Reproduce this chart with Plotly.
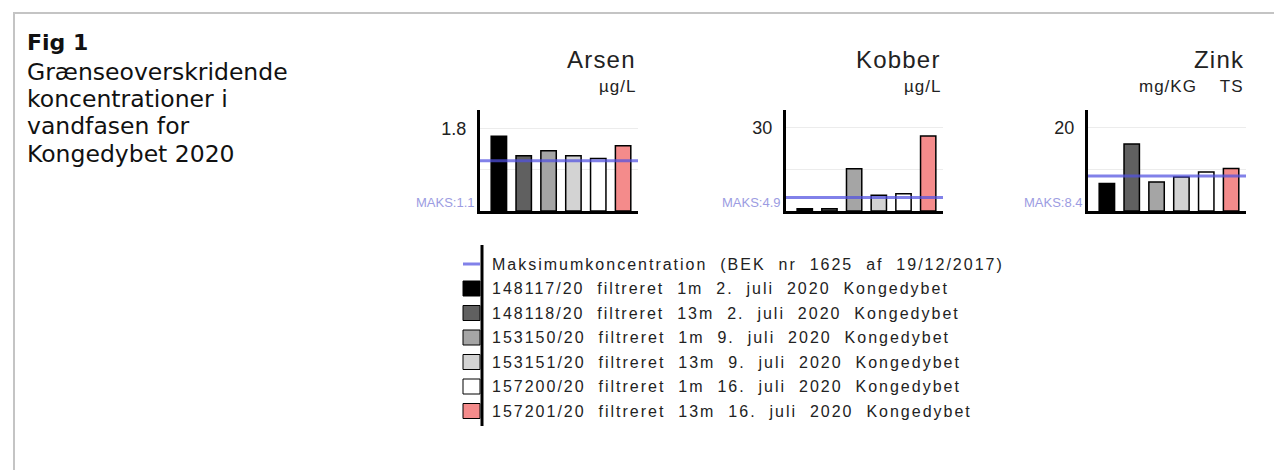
import plotly.graph_objects as go

W, H = 1282, 470

# ---------------- data ----------------
metals = ["Arsen", "Kobber", "Zink"]
units = ["µg/L", "µg/L", "mg/KG  TS"]
arsen_vals = [1.64, 1.21, 1.32, 1.21, 1.15, 1.43]
kobber_vals = [0.8, 0.8, 15.3, 5.7, 6.25, 27.1]
zink_vals = [6.6, 16.1, 7.0, 8.2, 9.4, 10.2]
maks_vals = [1.1, 4.9, 8.4]
tick_steps = [0.9, 15, 10]
tick_labels = ["1.8", "30", "20"]
y_tops = [2.215, 36.5, 24.3]

sample_labels = [
    "148117/20 filtreret 1m 2. juli 2020 Kongedybet",
    "148118/20 filtreret 13m 2. juli 2020 Kongedybet",
    "153150/20 filtreret 1m 9. juli 2020 Kongedybet",
    "153151/20 filtreret 13m 9. juli 2020 Kongedybet",
    "157200/20 filtreret 1m 16. juli 2020 Kongedybet",
    "157201/20 filtreret 13m 16. juli 2020 Kongedybet",
]
maks_label = "Maksimumkoncentration (BEK nr 1625 af 19/12/2017)"
sample_colors = ["#000000", "#606060", "#a5a5a5", "#d3d3d3", "#ffffff", "#f48b8b"]

caption_title = "Fig 1"
caption_lines = ["Grænseoverskridende", "koncentrationer i", "vandfasen for", "Kongedybet 2020"]

all_vals = [arsen_vals, kobber_vals, zink_vals]

# ---------------- layout helpers ----------------
def px(x):
    return x / W

def py(y):
    return 1 - y / H

FONT = "Liberation Sans, Arial, sans-serif"
MAKS_LINE = "rgba(80,80,225,0.72)"
MAKS_TEXT = "#9c9ce2"

plot_x = [(472, 630), (778, 935), (1080, 1238)]
plot_y = (102, 203)
x_range = [-0.76, 5.6]

def spaced(s, ls):
    t = s.replace(" ", "\u00a0\u00a0")
    return f'<span style="letter-spacing:{ls}px">{t}</span>'

fig = go.Figure()
annotations = []
shapes = []

for i, name in enumerate(metals):
    ax = "" if i == 0 else str(i + 1)
    xa, ya = "x" + ax, "y" + ax
    vals = all_vals[i]
    fig.add_trace(go.Bar(
        x=list(range(len(vals))), y=vals,
        marker=dict(color=sample_colors, line=dict(color="#000000", width=1.5)),
        width=0.62, xaxis=xa, yaxis=ya, showlegend=False,
    ))
    x0, x1 = plot_x[i]
    fig.layout["xaxis" + ax] = dict(
        domain=[px(x0), px(x1)], range=x_range, anchor=ya,
        showline=True, linecolor="#000000", linewidth=3,
        showticklabels=False, showgrid=False, zeroline=False, ticks="",
    )
    step = tick_steps[i]
    fig.layout["yaxis" + ax] = dict(
        domain=[py(plot_y[1]), py(plot_y[0])], range=[0, y_tops[i]], anchor=xa,
        showline=True, linecolor="#000000", linewidth=3,
        tickvals=[step, 2 * step], ticktext=["", tick_labels[i]],
        showgrid=True, gridcolor="#ececec", gridwidth=1, zeroline=False,
        ticks="outside", ticklen=7, tickcolor="rgba(0,0,0,0)",
        tickfont=dict(family=FONT, size=18, color="#222222"),
    )
    # max concentration line
    shapes.append(dict(type="line", xref=xa + " domain", yref=ya,
                       x0=0, x1=1, y0=maks_vals[i], y1=maks_vals[i],
                       line=dict(color=MAKS_LINE, width=3), layer="above"))
    annotations.append(dict(xref=xa + " domain", yref=ya + " domain", x=0, y=0,
                            xanchor="right", yanchor="bottom", xshift=-3, yshift=-1,
                            text=f"MAKS:{maks_vals[i]}", showarrow=False,
                            font=dict(family=FONT, size=13, color=MAKS_TEXT)))
    # titles
    annotations.append(dict(xref=xa + " domain", yref="paper", x=1, y=py(52),
                            xanchor="right", yanchor="middle",
                            text=spaced(name, 1.2), showarrow=False,
                            font=dict(family=FONT, size=24, color="#222222")))
    annotations.append(dict(xref=xa + " domain", yref="paper", x=1, y=py(78),
                            xanchor="right", yanchor="middle",
                            text=spaced(units[i], 1.0), showarrow=False,
                            font=dict(family=FONT, size=17, color="#222222")))

# ---------------- legend ----------------
row0, row_h = 256, 24.5
sw_x0, sw_x1 = 455, 472
shapes.append(dict(type="line", xref="paper", yref="paper",
                   x0=px(474), x1=px(474), y0=py(237), y1=py(418),
                   line=dict(color="#000000", width=3)))
shapes.append(dict(type="line", xref="paper", yref="paper",
                   x0=px(sw_x0), x1=px(sw_x1), y0=py(row0), y1=py(row0),
                   line=dict(color=MAKS_LINE, width=3)))
legend_texts = [maks_label] + sample_labels
for k, c in enumerate(sample_colors):
    yc = row0 + (k + 1) * row_h
    shapes.append(dict(type="rect", xref="paper", yref="paper",
                       x0=px(sw_x0), x1=px(sw_x1), y0=py(yc + 7.5), y1=py(yc - 7.5),
                       fillcolor=c, line=dict(color="#000000", width=1)))
for k, t in enumerate(legend_texts):
    yc = row0 + k * row_h
    annotations.append(dict(xref="paper", yref="paper", x=px(482), y=py(yc),
                            xanchor="left", yanchor="middle",
                            text=spaced(t, 2), showarrow=False,
                            font=dict(family=FONT, size=16, color="#222222")))

# ---------------- caption ----------------
CAP_FONT = "DejaVu Sans, Verdana, sans-serif"
annotations.append(dict(xref="paper", yref="paper", x=px(17), y=py(34),
                        xanchor="left", yanchor="middle",
                        text=f"<b>{caption_title}</b>", showarrow=False,
                        font=dict(family=CAP_FONT, size=22, color="#111111")))
for k, line in enumerate(caption_lines):
    annotations.append(dict(xref="paper", yref="paper", x=px(17), y=py(64 + k * 27.2),
                            xanchor="left", yanchor="middle",
                            text=line, showarrow=False,
                            font=dict(family=CAP_FONT, size=23.5, color="#111111")))

# ---------------- frame ----------------
shapes.append(dict(type="line", xref="paper", yref="paper",
                   x0=px(5), x1=1, y0=py(5), y1=py(5),
                   line=dict(color="#c4c4c4", width=2)))
shapes.append(dict(type="line", xref="paper", yref="paper",
                   x0=px(6), x1=px(6), y0=py(5), y1=0,
                   line=dict(color="#c4c4c4", width=2)))

fig.update_layout(
    width=W, height=H, margin=dict(l=0, r=0, t=0, b=0),
    paper_bgcolor="#ffffff", plot_bgcolor="#ffffff",
    annotations=annotations, shapes=shapes, showlegend=False, bargap=0.4,
)

fig.write_html("out.html")
